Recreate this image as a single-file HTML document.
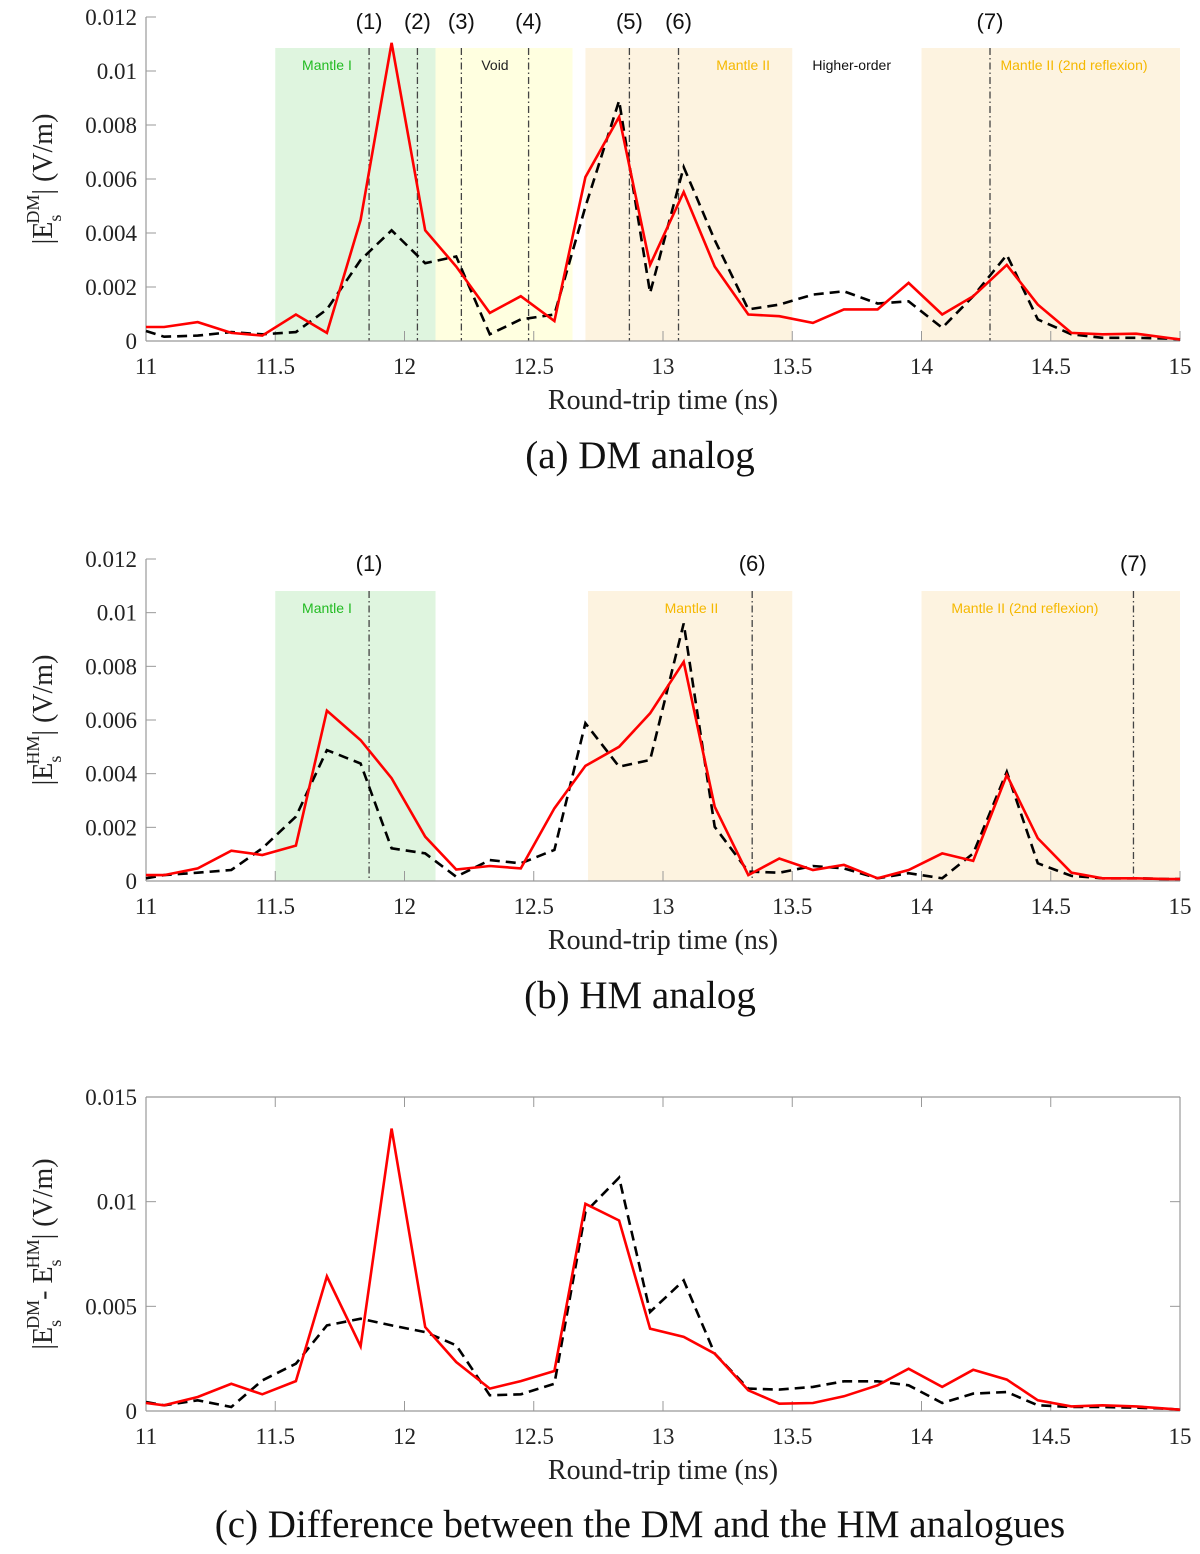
<!DOCTYPE html>
<html><head><meta charset="utf-8">
<style>
html,body{margin:0;padding:0;background:#fff;}
svg{display:block;}
.tk{font-family:"Liberation Serif",serif;font-size:23px;fill:#222;}
.ax{font-family:"Liberation Serif",serif;font-size:28px;fill:#222;}
.cap{font-family:"Liberation Serif",serif;font-size:39px;fill:#111;}
.mk{font-family:"Liberation Sans",sans-serif;font-size:22px;fill:#111;}
.bl{font-family:"Liberation Sans",sans-serif;font-size:14px;}
</style></head>
<body>
<svg id="fig" width="1200" height="1554" viewBox="0 0 1200 1554" xmlns="http://www.w3.org/2000/svg"></svg>
<script>
const times=[11.00,11.07,11.20,11.33,11.45,11.58,11.70,11.83,11.95,12.08,12.20,12.33,12.45,12.58,12.70,12.83,12.95,13.08,13.20,13.33,13.45,13.58,13.70,13.83,13.95,14.08,14.20,14.33,14.45,14.58,14.70,14.83,14.95,15.00];
const dmRed=[0.00052,0.00052,0.0007,0.0003,0.0002,0.00098,0.0003,0.00448,0.01104,0.0041,0.00276,0.00104,0.00166,0.00074,0.00607,0.0083,0.00282,0.00552,0.00276,0.00098,0.00092,0.00067,0.00117,0.00117,0.00215,0.00098,0.00166,0.00282,0.00135,0.0003,0.00025,0.00027,0.00012,0.00006];
const dmBlack=[0.00037,0.00016,0.0002,0.00033,0.00025,0.00033,0.00117,0.003,0.0041,0.00288,0.00313,0.00025,0.0008,0.00098,0.00497,0.0089,0.00178,0.00644,0.00374,0.00117,0.00135,0.00172,0.00184,0.00139,0.00147,0.00049,0.00166,0.00319,0.0008,0.00025,0.00012,0.00012,0.00009,0.00006];
const hmRed=[0.00022,0.00022,0.00047,0.00113,0.00097,0.00132,0.00635,0.00525,0.00383,0.00165,0.00043,0.00056,0.00047,0.00271,0.00429,0.005,0.00625,0.00817,0.00277,0.00022,0.00084,0.00041,0.0006,0.0001,0.00041,0.00103,0.00075,0.00395,0.00159,0.00031,0.0001,0.0001,0.00007,0.00007];
const hmBlack=[0.0001,0.00022,0.00031,0.00041,0.00122,0.0024,0.00488,0.00438,0.00122,0.00103,0.00016,0.00078,0.00066,0.00116,0.00588,0.00426,0.00451,0.0096,0.00202,0.00035,0.00031,0.00056,0.00047,0.0001,0.00029,0.0001,0.00103,0.00407,0.00066,0.00019,0.0001,0.0001,0.00007,0.00007];
const diffRed=[0.00038,0.00027,0.00067,0.0013,0.0008,0.00143,0.00643,0.00309,0.01349,0.00401,0.00234,0.00107,0.00143,0.00191,0.0099,0.0091,0.00393,0.00354,0.00274,0.00099,0.00035,0.00038,0.0007,0.00123,0.00202,0.00115,0.00197,0.0015,0.00051,0.00022,0.00027,0.00022,0.00011,0.00006];
const diffBlack=[0.00043,0.00027,0.00051,0.00019,0.00146,0.00226,0.00409,0.00441,0.00409,0.00377,0.00314,0.00075,0.0008,0.0013,0.0095,0.01115,0.00473,0.00624,0.00274,0.00107,0.00102,0.00115,0.00142,0.00142,0.00123,0.00038,0.00083,0.00091,0.00027,0.00019,0.00019,0.00016,0.00011,0.00006];
const xTicks=[11,11.5,12,12.5,13,13.5,14,14.5,15];
const xTickLabels=["11","11.5","12","12.5","13","13.5","14","14.5","15"];
const yTicksAB=[0,0.002,0.004,0.006,0.008,0.01,0.012];
const yTickLabelsAB=["0","0.002","0.004","0.006","0.008","0.01","0.012"];
const yTicksC=[0,0.005,0.01,0.015];
const yTickLabelsC=["0","0.005","0.01","0.015"];
const bandsA=[[11.5,12.12,"#dff5df","Mantle I","#22bb22",11.70],[12.12,12.65,"#ffffe0","Void","#222",12.35],[12.7,13.5,"#fdf3e0","Mantle II","#f5b800",13.31],[13.5,14.0,"none","Higher-order","#111",13.73],[14.0,15.0,"#fdf3e0","Mantle II (2nd reflexion)","#f5b800",14.59]];
const markersA=[[11.863,"(1)"],[12.05,"(2)"],[12.22,"(3)"],[12.48,"(4)"],[12.87,"(5)"],[13.06,"(6)"],[14.265,"(7)"]];
const bandsB=[[11.5,12.12,"#dff5df","Mantle I","#22bb22",11.70],[12.71,13.5,"#fdf3e0","Mantle II","#f5b800",13.11],[14.0,15.0,"#fdf3e0","Mantle II (2nd reflexion)","#f5b800",14.40]];
const markersB=[[11.863,"(1)"],[13.345,"(6)"],[14.82,"(7)"]];

const NS="http://www.w3.org/2000/svg";
const svg=document.getElementById('fig');
function mk(tag,attrs,parent){const e=document.createElementNS(NS,tag);for(const k in attrs)e.setAttribute(k,attrs[k]);(parent||svg).appendChild(e);return e;}
const L=146,R=1180;
function xs(t){return L+(t-11)/4*(R-L);}

function panel(id,top,bottom,ymax,yT,yTL,red,black,bands,markers,bandTop,box,ylab,cap,capY){
  const g=mk('g',{});
  
  
  const ys=v=>bottom-v/ymax*(bottom-top);
  if(bands){bands.forEach(b=>{
    if(b[2]!=="none"){const r=mk('rect',{x:xs(b[0]),y:bandTop,width:xs(b[1])-xs(b[0]),height:bottom-bandTop,fill:b[2]},g);
    }
    const t=mk('text',{x:xs(b[5]),y:bandTop+22,'text-anchor':'middle',class:'bl',fill:b[4]},g);t.textContent=b[3];
    
  });}
  if(markers){markers.forEach(m=>{
    const l=mk('line',{x1:xs(m[0]),x2:xs(m[0]),y1:bandTop,y2:bottom,stroke:'#444','stroke-width':1.3,'stroke-dasharray':'7,3,1.5,3'},g);
    
    const t=mk('text',{x:xs(m[0]),y:top+12,'text-anchor':'middle',class:'mk'},g);t.textContent=m[1];
    
  });}
  mk('line',{x1:L,x2:L,y1:top,y2:bottom,stroke:'#999','stroke-width':1.2},g);
  mk('line',{x1:L,x2:R,y1:bottom,y2:bottom,stroke:'#999','stroke-width':1.2},g);
  if(box){mk('line',{x1:L,x2:R,y1:top,y2:top,stroke:'#999','stroke-width':1.2},g);mk('line',{x1:R,x2:R,y1:top,y2:bottom,stroke:'#999','stroke-width':1.2},g);}
  xTicks.forEach((t,i)=>{
    mk('line',{x1:xs(t),x2:xs(t),y1:bottom,y2:bottom-10,stroke:'#999'},g);
    if(box)mk('line',{x1:xs(t),x2:xs(t),y1:top,y2:top+10,stroke:'#999'},g);
    const tx=mk('text',{x:xs(t),y:bottom+33,'text-anchor':'middle',class:'tk'},g);tx.textContent=xTickLabels[i];
    
  });
  yT.forEach((v,i)=>{
    mk('line',{x1:L,x2:L+10,y1:ys(v),y2:ys(v),stroke:'#999'},g);
    if(box)mk('line',{x1:R,x2:R-10,y1:ys(v),y2:ys(v),stroke:'#999'},g);
    const tx=mk('text',{x:L-9,y:ys(v)+8,'text-anchor':'end',class:'tk'},g);tx.textContent=yTL[i];
    
  });
  const pts=a=>a.map((v,i)=>xs(times[i]).toFixed(1)+','+ys(v).toFixed(1)).join(' ');
  const pb=mk('polyline',{points:pts(black),fill:'none',stroke:'#000','stroke-width':2.6,'stroke-dasharray':'10,6'},g);
  
  const pr=mk('polyline',{points:pts(red),fill:'none',stroke:'#ff0000','stroke-width':2.6},g);
  
  const xl=mk('text',{x:(L+R)/2,y:bottom+68,'text-anchor':'middle',class:'ax'},g);xl.textContent='Round-trip time (ns)';
  
  const yl=mk('text',{transform:`translate(52,${(top+bottom)/2}) rotate(-90)`,'text-anchor':'middle',class:'ax'},g);
  yl.innerHTML=ylab;
  
  const c=mk('text',{x:640,y:capY,'text-anchor':'middle',class:'cap'},g);c.textContent=cap;
  
}
panel('panel-a',17,341,0.012,yTicksAB,yTickLabelsAB,dmRed,dmBlack,bandsA,markersA,48,false,
 '|E<tspan dy="9" font-size="18">s</tspan><tspan dy="-22" dx="-9" font-size="18">DM</tspan><tspan dy="13">| (V/m)</tspan>','(a)  DM analog',468);
panel('panel-b',559,881,0.012,yTicksAB,yTickLabelsAB,hmRed,hmBlack,bandsB,markersB,591,false,
 '|E<tspan dy="9" font-size="18">s</tspan><tspan dy="-22" dx="-9" font-size="18">HM</tspan><tspan dy="13">| (V/m)</tspan>','(b)  HM analog',1008);
panel('panel-c',1097,1411,0.015,yTicksC,yTickLabelsC,diffRed,diffBlack,null,null,1097,true,
 '|E<tspan dy="9" font-size="18">s</tspan><tspan dy="-22" dx="-9" font-size="18">DM</tspan><tspan dy="13">- E</tspan><tspan dy="9" font-size="18">s</tspan><tspan dy="-22" dx="-9" font-size="18">HM</tspan><tspan dy="13">| (V/m)</tspan>','(c)  Difference between the DM and the HM analogues',1537);
</script>
</body></html>
